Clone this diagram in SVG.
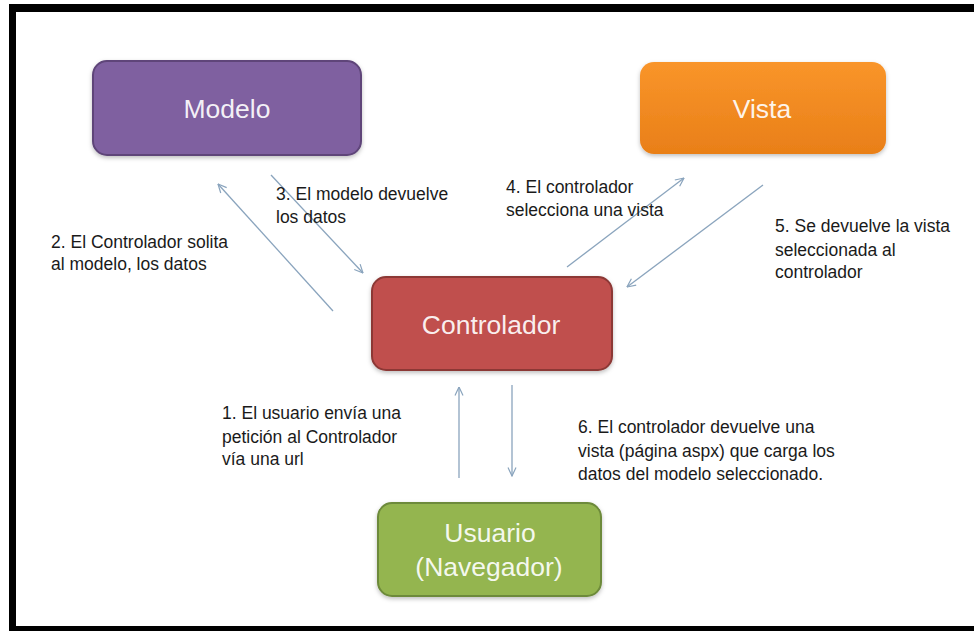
<svg xmlns="http://www.w3.org/2000/svg" width="974" height="631" viewBox="0 0 974 631">
<style>
.node{stroke-width:2}
.lbl{font-family:"Liberation Sans",Arial,sans-serif;font-size:26.5px;fill:#ffffff;fill-opacity:0.92;text-anchor:middle}
.note{font-family:"Liberation Sans",Arial,sans-serif;font-size:17.5px;fill:#1a1a1a}
.conn{stroke:#8aa4bd;stroke-width:1.3;fill:none;marker-end:url(#ah)}
</style>
<defs>
<marker id="ah" viewBox="0 0 10 10" refX="9.5" refY="5" markerWidth="10" markerHeight="10" markerUnits="userSpaceOnUse" orient="auto">
<path d="M1,1 L9.5,5 L1,9" fill="none" stroke="#8aa4bd" stroke-width="1.2"/>
</marker>
<linearGradient id="gOrange" x1="0" y1="0" x2="0" y2="1">
<stop offset="0" stop-color="#f9952a"/>
<stop offset="1" stop-color="#e97f18"/>
</linearGradient>
<filter id="sh" x="-10%" y="-10%" width="120%" height="130%">
<feDropShadow dx="0" dy="2" stdDeviation="2" flood-color="#000" flood-opacity="0.25"/>
</filter>
</defs>
<rect x="0" y="0" width="974" height="631" fill="#ffffff"/>
<rect x="9" y="4" width="965" height="8" fill="#000"/>
<rect x="9" y="4" width="7" height="627" fill="#000"/>
<rect x="9" y="626" width="965" height="5" fill="#000"/>

<g id="modelo">
<rect class="node" x="93" y="61" width="268" height="94" rx="14" fill="#7f61a0" stroke="#5e4579" filter="url(#sh)"/>
<text class="lbl" x="227" y="118">Modelo</text>
</g>
<g id="vista">
<rect x="640" y="62" width="246" height="92" rx="14" fill="url(#gOrange)" filter="url(#sh)"/>
<text class="lbl" x="762" y="118">Vista</text>
</g>
<g id="controlador">
<rect class="node" x="372" y="277" width="240" height="93" rx="14" fill="#c0504d" stroke="#8c3836" filter="url(#sh)"/>
<text class="lbl" x="491" y="334">Controlador</text>
</g>
<g id="usuario">
<rect class="node" x="378" y="503" width="223" height="93" rx="14" fill="#94b54f" stroke="#6d8a3a" filter="url(#sh)"/>
<text class="lbl" x="490" y="542">Usuario</text>
<text class="lbl" x="489" y="576">(Navegador)</text>
</g>

<g id="connectors">
<line class="conn" x1="333" y1="311" x2="218" y2="184"/>
<line class="conn" x1="271" y1="175" x2="363" y2="273"/>
<line class="conn" x1="567" y1="267" x2="684" y2="178"/>
<line class="conn" x1="763" y1="185" x2="627" y2="287"/>
<line class="conn" x1="459" y1="478" x2="459" y2="387"/>
<line class="conn" x1="512" y1="385" x2="512" y2="476"/>
</g>

<g id="labels">
<text class="note" x="51" y="248">2. El Controlador solita</text>
<text class="note" x="51" y="270">al modelo, los datos</text>
<text class="note" x="276" y="200">3. El modelo devuelve</text>
<text class="note" x="276" y="223">los datos</text>
<text class="note" x="506" y="193">4. El controlador</text>
<text class="note" x="506" y="216">selecciona una vista</text>
<text class="note" x="775" y="232">5. Se devuelve la vista</text>
<text class="note" x="775" y="256">seleccionada al</text>
<text class="note" x="775" y="278">controlador</text>
<text class="note" x="222" y="419">1. El usuario envía una</text>
<text class="note" x="222" y="443">petición al Controlador</text>
<text class="note" x="222" y="465">vía una url</text>
<text class="note" x="578" y="433">6. El controlador devuelve una</text>
<text class="note" x="578" y="457">vista (página aspx) que carga los</text>
<text class="note" x="578" y="480">datos del modelo seleccionado.</text>
</g>
</svg>
